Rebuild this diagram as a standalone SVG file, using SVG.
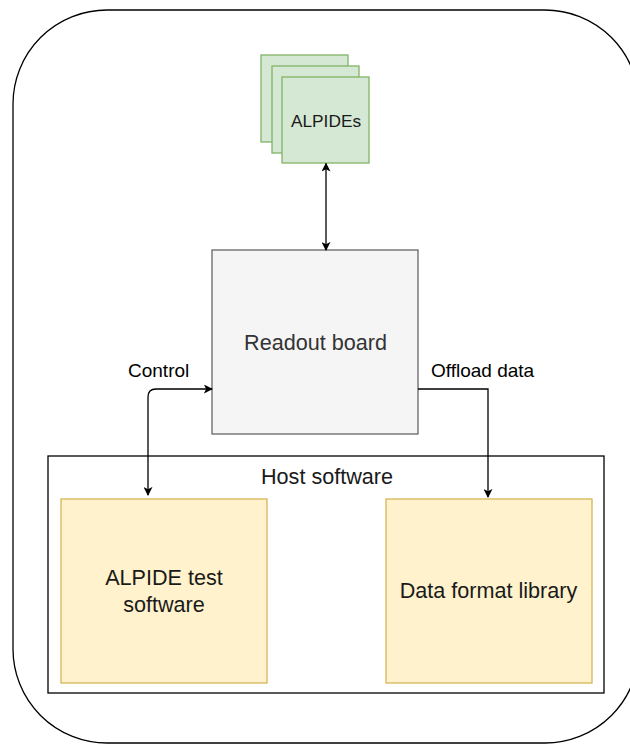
<svg xmlns="http://www.w3.org/2000/svg" width="630" height="744" viewBox="0 0 630 744">
  <defs>
    <marker id="arrow" viewBox="0 0 10 10" refX="9" refY="5" markerWidth="9" markerHeight="9" markerUnits="userSpaceOnUse" orient="auto-start-reverse">
      <path d="M0,0 L10,5 L0,10 L2.5,5 Z" fill="#000"/>
    </marker>
    <style>
      text { font-family: "Liberation Sans", Arial, sans-serif; }
      .chip { fill: #d5e8d4; stroke: #82b366; stroke-width: 1.3; }
      .sw { fill: #fff2cc; stroke: #d6b656; stroke-width: 1.3; }
      .board { fill: #f5f5f5; stroke: #666666; stroke-width: 1.3; }
      .frame { fill: none; stroke: #000; stroke-width: 1.3; }
      .link { fill: none; stroke: #000; stroke-width: 1.3; }
      .lbl { font-size: 19px; fill: #000; }
      .nodeText { font-size: 21.6px; fill: #1a1a1a; text-anchor: middle; }
    </style>
  </defs>
  <rect width="630" height="744" fill="#fff"/>

  <!-- outer system boundary -->
  <g id="system">
    <rect class="frame" x="13" y="10" width="626" height="733" rx="94" ry="94"/>
  </g>

  <!-- stacked sensor chips -->
  <g id="alpides">
    <rect class="chip" x="261" y="55" width="87" height="87"/>
    <rect class="chip" x="272" y="66" width="87" height="87"/>
    <rect class="chip" x="282" y="77" width="87" height="86"/>
    <text x="326" y="127" font-size="17.3" text-anchor="middle" fill="#1a1a1a">ALPIDEs</text>
  </g>

  <g id="readout-board">
    <rect class="board" x="212" y="250" width="206" height="184"/>
    <text class="nodeText" x="315.5" y="350" style="fill:#333333">Readout board</text>
  </g>

  <g id="host-software">
    <rect class="frame" x="48" y="456" width="556" height="237"/>
    <text class="nodeText" x="327" y="484">Host software</text>
  </g>

  <g id="alpide-test-software">
    <rect class="sw" x="61" y="499" width="206" height="184"/>
    <text class="nodeText" x="164" y="585">ALPIDE test</text>
    <text class="nodeText" x="164" y="612">software</text>
  </g>

  <g id="data-format-library">
    <rect class="sw" x="386" y="499" width="206" height="184"/>
    <text class="nodeText" x="488.5" y="598">Data format library</text>
  </g>

  <g id="connectors">
    <!-- chips <-> readout board -->
    <path class="link" d="M326,163.5 L326,250" marker-start="url(#arrow)" marker-end="url(#arrow)"/>
    <!-- control path -->
    <path class="link" d="M212,389 L156,389 Q148,389 148,397 L148,495" marker-start="url(#arrow)" marker-end="url(#arrow)"/>
    <text class="lbl" x="128" y="377">Control</text>
    <!-- data offload path -->
    <path class="link" d="M418,389 L488,389 L488,497" marker-end="url(#arrow)"/>
    <text class="lbl" x="431" y="377">Offload data</text>
  </g>
</svg>
